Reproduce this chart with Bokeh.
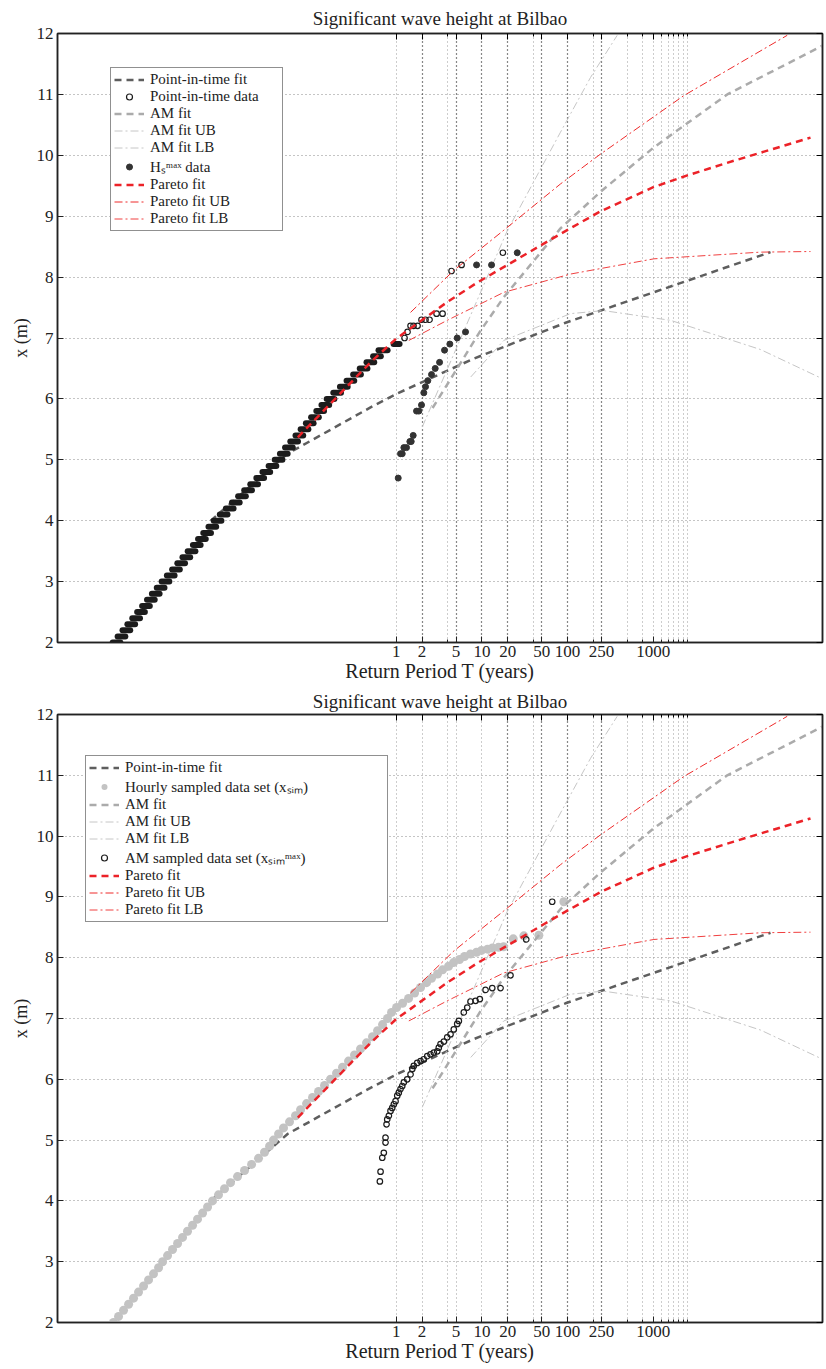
import numpy as np
from bokeh.plotting import figure
from bokeh.models import (LogAxis, LinearAxis, FixedTicker, Grid, Legend, LegendItem,
                          NumeralTickFormatter, CustomJSTickFormatter, Range1d)
from bokeh.layouts import column
from bokeh.embed import file_html
from bokeh.resources import INLINE

FONT = "'Liberation Serif'"

# ---------------- axes ticks ----------------
xtick_major = [1, 2, 5, 10, 20, 50, 100, 250, 1000]
xtick_minor = [4, 40, 200, 500, 750, 1250, 1500, 1750, 2000, 2250, 2500]
ytick_vals = [2, 3, 4, 5, 6, 7, 8, 9, 10, 11, 12]
grid_dark_top = [2, 5, 10, 20, 50, 100, 250]
grid_light_top = [1, 4, 40, 200, 500, 750, 1000, 1250, 1500, 1750, 2000, 2250, 2500]
grid_dark_bot = [20, 50, 100, 250]
grid_light_bot = [1, 2, 4, 5, 10, 40, 200, 500, 750, 1000, 1250, 1500, 1750, 2000, 2250, 2500]

# ---------------- data (return period as log10 T in years, height in m) -------------
pit_levels = [2.0, 2.1, 2.2, 2.3, 2.4, 2.5, 2.6, 2.7, 2.8, 2.9,
              3.0, 3.1, 3.2, 3.3, 3.4, 3.5, 3.6, 3.7, 3.8, 3.9,
              4.0, 4.1, 4.2, 4.3, 4.4, 4.5, 4.6, 4.7, 4.8, 4.9,
              5.0, 5.1, 5.2, 5.3, 5.4, 5.5, 5.6, 5.7, 5.8, 5.9,
              6.0, 6.1, 6.2, 6.3, 6.4, 6.5, 6.6, 6.7, 6.8, 6.9]
pit_logT_lo = [-3.311, -3.253, -3.196, -3.139, -3.082, -3.025, -2.967, -2.910, -2.853, -2.796,
               -2.739, -2.678, -2.617, -2.556, -2.496, -2.435, -2.374, -2.314, -2.253, -2.192,
               -2.131, -2.060, -1.989, -1.918, -1.846, -1.775, -1.704, -1.633, -1.562, -1.490,
               -1.419, -1.358, -1.298, -1.237, -1.176, -1.116, -1.055, -0.994, -0.933, -0.873,
               -0.812, -0.735, -0.657, -0.580, -0.503, -0.426, -0.347, -0.270, -0.207, -0.031]
pit_logT_hi = [-3.221, -3.163, -3.106, -3.049, -2.992, -2.935, -2.877, -2.820, -2.763, -2.706,
               -2.649, -2.588, -2.527, -2.466, -2.406, -2.345, -2.284, -2.224, -2.163, -2.102,
               -2.041, -1.970, -1.899, -1.828, -1.756, -1.685, -1.614, -1.543, -1.472, -1.400,
               -1.329, -1.268, -1.208, -1.147, -1.086, -1.026, -0.965, -0.904, -0.843, -0.783,
               -0.722, -0.645, -0.567, -0.490, -0.413, -0.336, -0.257, -0.180, -0.101, 0.039]
pit_tail_logT = [0.097, 0.132, 0.167, 0.202, 0.249, 0.295, 0.342, 0.389, 0.471, 0.541, 0.646, 0.763, 1.245]
pit_tail_h = [7.0, 7.1, 7.2, 7.2, 7.2, 7.3, 7.3, 7.3, 7.4, 7.4, 8.1, 8.2, 8.4]

am_logT = [0.023, 0.050, 0.070, 0.089, 0.120, 0.159, 0.175, 0.198, 0.237, 0.264, 0.295, 0.322,
           0.342, 0.369, 0.412, 0.455, 0.506, 0.564, 0.626, 0.712, 0.809, 0.938, 1.113, 1.413]
am_h = [4.7, 5.1, 5.1, 5.2, 5.2, 5.3, 5.3, 5.4, 5.8, 5.8, 5.9, 6.1,
        6.2, 6.3, 6.4, 6.5, 6.6, 6.8, 6.9, 7.0, 7.1, 8.2, 8.2, 8.4]

pitfit_logT = [-2.166, -1.269, -0.300, 0.015, 0.903, 1.977, 2.385, 3.398, 4.370]
pitfit_h = [4.00, 5.10, 5.86, 6.09, 6.66, 7.25, 7.45, 7.94, 8.41]

amfit_logT = [0.424, 0.672, 0.984, 1.256, 1.918, 2.385, 3.008, 3.865, 4.977]
amfit_h = [5.85, 6.41, 7.12, 7.67, 8.80, 9.40, 10.13, 11.00, 11.80]
amub_logT = [0.304, 1.296, 1.918, 2.269, 2.580]
amub_h = [5.54, 8.76, 10.38, 11.28, 11.97]
amlb_logT = [0.870, 1.256, 2.035, 2.420, 3.203, 4.254, 4.977]
amlb_h = [6.36, 6.96, 7.40, 7.45, 7.29, 6.81, 6.33]

par_logT = [-1.149, -0.300, 0.000, 0.595, 0.946, 1.723, 1.918, 2.385, 3.008, 3.398, 3.942, 4.837]
par_h = [5.37, 6.60, 6.99, 7.59, 7.91, 8.55, 8.71, 9.08, 9.48, 9.67, 9.91, 10.29]
parub_logT = [0.167, 0.672, 1.256, 1.918, 2.385, 3.358, 4.565]
parub_h = [7.42, 8.11, 8.77, 9.53, 10.02, 10.98, 11.97]
parlb_logT = [0.147, 0.595, 1.256, 2.035, 3.008, 4.253, 4.837]
parlb_h = [6.96, 7.29, 7.75, 8.05, 8.30, 8.41, 8.42]

sim_logT = [-3.301, -3.242, -3.184, -3.125, -3.067, -3.009, -2.950, -2.892, -2.834, -2.775,
            -2.728, -2.670, -2.612, -2.553, -2.495, -2.437, -2.378, -2.320, -2.261, -2.203,
            -2.145, -2.075, -2.005, -1.935, -1.853, -1.771, -1.689, -1.608, -1.538, -1.479,
            -1.433, -1.374, -1.316, -1.246, -1.176, -1.117, -1.047, -0.977, -0.907, -0.837,
            -0.767, -0.697, -0.627, -0.557, -0.487, -0.417, -0.347, -0.277, -0.218, -0.160,
            -0.102, -0.055, 0.004, 0.074, 0.144, 0.214, 0.284, 0.354, 0.412, 0.482,
            0.541, 0.611, 0.669, 0.739, 0.797, 0.867, 0.938, 0.996, 1.066, 1.124,
            1.194, 1.253, 1.366, 1.490, 1.665, 1.957]
sim_h = [2.0, 2.1, 2.2, 2.3, 2.4, 2.5, 2.6, 2.7, 2.8, 2.9,
         3.0, 3.1, 3.2, 3.3, 3.4, 3.5, 3.6, 3.7, 3.8, 3.9,
         4.0, 4.1, 4.2, 4.3, 4.4, 4.5, 4.6, 4.7, 4.8, 4.9,
         5.0, 5.1, 5.2, 5.3, 5.4, 5.5, 5.6, 5.7, 5.8, 5.9,
         6.0, 6.1, 6.2, 6.3, 6.4, 6.5, 6.6, 6.7, 6.8, 6.9,
         7.0, 7.1, 7.18, 7.25, 7.33, 7.42, 7.51, 7.59, 7.66, 7.73,
         7.80, 7.86, 7.92, 7.97, 8.02, 8.06, 8.09, 8.12, 8.14, 8.16,
         8.17, 8.18, 8.31, 8.36, 8.37, 8.92]

amsim_logT = [-0.191, -0.183, -0.163, -0.145, -0.125, -0.125, -0.113, -0.105, -0.086, -0.067,
              -0.047, -0.028, -0.008, 0.012, 0.030, 0.050, 0.070, 0.089, 0.128, 0.167,
              0.187, 0.205, 0.245, 0.284, 0.322, 0.362, 0.400, 0.439, 0.479, 0.497,
              0.517, 0.556, 0.595, 0.634, 0.672, 0.712, 0.731, 0.789, 0.829, 0.867,
              0.926, 0.976, 1.043, 1.121, 1.218, 1.334, 1.518, 1.821]
amsim_h = [4.32, 4.48, 4.71, 4.79, 4.96, 5.04, 5.26, 5.34, 5.40, 5.48,
           5.53, 5.59, 5.64, 5.73, 5.78, 5.84, 5.89, 5.95, 6.00, 6.08,
           6.17, 6.22, 6.27, 6.30, 6.33, 6.38, 6.41, 6.44, 6.46, 6.52,
           6.58, 6.62, 6.69, 6.74, 6.82, 6.91, 6.96, 7.10, 7.18, 7.28,
           7.29, 7.32, 7.47, 7.50, 7.50, 7.71, 8.30, 8.92]

TITLE = "Significant wave height at Bilbao"


def T(v):
    return [10.0 ** x for x in v]


def base_panel(top_border, title_standoff, frame_h, bottom_border, grid_dark, grid_light):
    p = figure(x_axis_type="log", x_range=Range1d(10 ** -3.955, 10 ** 4.977),
               y_range=Range1d(2, 12), frame_width=765, frame_height=frame_h,
               min_border_left=57, min_border_right=4, min_border_top=top_border,
               min_border_bottom=bottom_border, output_backend="svg",
               toolbar_location=None, title=TITLE)
    p.background_fill_color = "white"
    p.border_fill_color = "white"
    p.outline_line_color = "#222222"
    p.outline_line_width = 1.5
    p.title.text_font = FONT
    p.title.text_font_size = "19px"
    p.title.text_font_style = "normal"
    p.title.text_color = "#222222"
    p.title.align = "center"
    p.title.standoff = title_standoff

    xt = FixedTicker(ticks=xtick_major, minor_ticks=xtick_minor)
    yt = FixedTicker(ticks=ytick_vals, minor_ticks=[])
    for ax in [p.xaxis[0], p.yaxis[0]]:
        ax.major_tick_in = 6
        ax.major_tick_out = 0
        ax.minor_tick_in = 3
        ax.minor_tick_out = 0
        ax.axis_line_color = "#222222"
        ax.axis_line_width = 1.5
        ax.major_tick_line_color = "#222222"
        ax.minor_tick_line_color = "#222222"
        ax.major_label_text_font = FONT
        ax.major_label_text_font_size = "17px"
        ax.major_label_text_color = "#222222"
        ax.axis_label_text_font = FONT
        ax.axis_label_text_font_style = "normal"
        ax.axis_label_text_color = "#222222"
    p.xaxis[0].ticker = xt
    p.xaxis[0].formatter = NumeralTickFormatter(format="0")
    p.xaxis[0].axis_label = "Return Period T (years)"
    p.xaxis[0].axis_label_text_font_size = "20px"
    p.xaxis[0].major_label_standoff = 3
    p.xaxis[0].axis_label_standoff = 0
    p.yaxis[0].ticker = yt
    p.yaxis[0].axis_label = "x (m)"
    p.yaxis[0].axis_label_text_font_size = "18px"
    p.yaxis[0].major_label_standoff = 4
    p.yaxis[0].axis_label_standoff = 3

    blank = CustomJSTickFormatter(code="return ''")
    top = LogAxis(ticker=xt, formatter=blank, major_tick_in=6, major_tick_out=0,
                  minor_tick_in=3, minor_tick_out=0, axis_line_color="#222222",
                  axis_line_width=1.5, major_label_standoff=0,
                  major_label_text_font_size="0px")
    right = LinearAxis(ticker=yt, formatter=blank, major_tick_in=6, major_tick_out=0,
                       minor_tick_in=0, minor_tick_out=0, axis_line_color="#222222",
                       axis_line_width=1.5, major_label_standoff=0,
                       major_label_text_font_size="0px")
    p.add_layout(top, "above")
    p.add_layout(right, "right")

    p.xgrid.visible = False
    p.ygrid.ticker = yt
    p.ygrid.grid_line_color = "#8a8a8a"
    p.ygrid.grid_line_dash = "1 3"
    p.ygrid.grid_line_width = 1
    gd = Grid(dimension=0, ticker=FixedTicker(ticks=grid_dark), grid_line_color="#111111",
              grid_line_dash="1 3", grid_line_width=1.2)
    gl = Grid(dimension=0, ticker=FixedTicker(ticks=grid_light), grid_line_color="#9a9a9a",
              grid_line_dash="1 3", grid_line_width=1)
    p.add_layout(gl)
    p.add_layout(gd)
    return p


def style_legend(p, items, loc, label_w):
    lg = Legend(items=items, location=loc)
    lg.label_text_font = FONT
    lg.label_text_font_size = "15px"
    lg.label_text_color = "#222222"
    lg.glyph_width = 30
    lg.glyph_height = 15
    lg.label_height = 15
    lg.label_width = label_w
    lg.label_standoff = 6
    lg.spacing = 0
    lg.padding = 3
    lg.margin = 0
    lg.border_line_color = "#222222"
    lg.border_line_width = 1.2
    lg.background_fill_color = "white"
    lg.background_fill_alpha = 1
    p.add_layout(lg)


def draw_am(p):
    am = p.line(T(amfit_logT), amfit_h, line_color="#ababab", line_width=2.5, line_dash="7 5")
    amub = p.line(T(amub_logT), amub_h, line_color="#c6c6c6", line_width=1, line_dash="8 3 2 3")
    amlb = p.line(T(amlb_logT), amlb_h, line_color="#c6c6c6", line_width=1, line_dash="8 3 2 3")
    return am, amub, amlb


def draw_pareto(p):
    pf = p.line(T(par_logT), par_h, line_color="#ec2228", line_width=2.5, line_dash="7 5")
    pub = p.line(T(parub_logT), parub_h, line_color="#ee2a2a", line_width=1, line_dash="8 3 2 3")
    plb = p.line(T(parlb_logT), parlb_h, line_color="#f04040", line_width=1, line_dash="8 3 2 3")
    return pf, pub, plb


# ---------------- top panel ----------------
p1 = base_panel(33, 9, 609, 44, grid_dark_top, grid_light_top)
r_pitfit = p1.line(T(pitfit_logT), pitfit_h, line_color="#5e5e5e", line_width=2.5, line_dash="7 5")
p1.segment(x0=T(pit_logT_lo), y0=pit_levels, x1=T(pit_logT_hi), y1=pit_levels,
           line_color="#1c1c1c", line_width=6, line_cap="round")
r_pitdata = p1.scatter(T(pit_tail_logT), pit_tail_h, marker="circle", size=5.5,
                       fill_color=None, line_color="#1c1c1c", line_width=1.2)
r_am, r_amub, r_amlb = draw_am(p1)
r_amdata = p1.scatter(T(am_logT), am_h, marker="circle", size=6, fill_color="#333333",
                      line_color="#333333", line_width=1)
r_pf, r_pub, r_plb = draw_pareto(p1)
style_legend(p1, [
    LegendItem(label="Point-in-time fit", renderers=[r_pitfit]),
    LegendItem(label="Point-in-time data", renderers=[r_pitdata]),
    LegendItem(label="AM fit", renderers=[r_am]),
    LegendItem(label="AM fit UB", renderers=[r_amub]),
    LegendItem(label="AM fit LB", renderers=[r_amlb]),
    LegendItem(label="H\u209b\u1d50\u1d43\u02e3 data", renderers=[r_amdata]),
    LegendItem(label="Pareto fit", renderers=[r_pf]),
    LegendItem(label="Pareto fit UB", renderers=[r_pub]),
    LegendItem(label="Pareto fit LB", renderers=[r_plb]),
], (53, 411), 129)

# ---------------- bottom panel ----------------
p2 = base_panel(28, 5, 608, 46, grid_dark_bot, grid_light_bot)
q_pitfit = p2.line(T(pitfit_logT), pitfit_h, line_color="#5e5e5e", line_width=2.5, line_dash="7 5")
q_sim = p2.scatter(T(sim_logT), sim_h, marker="circle", size=9, fill_color="#c3c3c3",
                   line_color=None)
q_am, q_amub, q_amlb = draw_am(p2)
q_amsim = p2.scatter(T(amsim_logT), amsim_h, marker="circle", size=5.5, fill_color=None,
                     line_color="#1c1c1c", line_width=1.2)
q_pf, q_pub, q_plb = draw_pareto(p2)
style_legend(p2, [
    LegendItem(label="Point-in-time fit", renderers=[q_pitfit]),
    LegendItem(label="Hourly sampled data set (x\u209b\u1d62\u2098)", renderers=[q_sim]),
    LegendItem(label="AM fit", renderers=[q_am]),
    LegendItem(label="AM fit UB", renderers=[q_amub]),
    LegendItem(label="AM fit LB", renderers=[q_amlb]),
    LegendItem(label="AM sampled data set (x\u209b\u1d62\u2098\u1d50\u1d43\u02e3)", renderers=[q_amsim]),
    LegendItem(label="Pareto fit", renderers=[q_pf]),
    LegendItem(label="Pareto fit UB", renderers=[q_pub]),
    LegendItem(label="Pareto fit LB", renderers=[q_plb]),
], (28, 400), 259)

layout = column(p1, p2)
open("out.html", "w").write(file_html(layout, INLINE))
